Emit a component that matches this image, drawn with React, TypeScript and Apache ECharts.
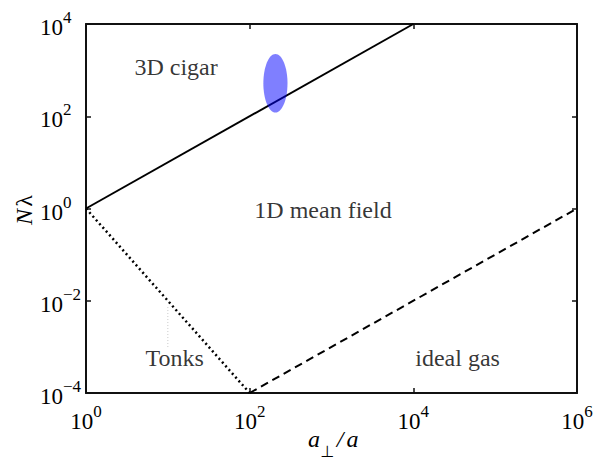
import React, { useEffect, useRef } from "react";
import * as echarts from "echarts";

// Regime boundaries (a_perp/a , N*lambda)
const meanFieldBoundary: [number, number][] = [[1, 1], [1e4, 1e4]];
const tonksBoundary: [number, number][] = [[1, 1], [100, 1e-4]];
const idealGasBoundary: [number, number][] = [[100, 1e-4], [1e6, 1]];
const guideLine: [number, number][] = [[10, 7.3e-3], [10, 9.5e-4]];
// Experiment region: [xMin, xMax, yMin, yMax]
const experimentRegion: number[][] = [[147, 290, 120, 2240]];
// Regime labels: [x, y, text]
const regimeLabels: [number, number, string][] = [
  [12.6, 1170, "3D cigar"],
  [787, 0.93, "1D mean field"],
  [12.1, 5.75e-4, "Tonks"],
  [34700, 5.75e-4, "ideal gas"],
];
const xTicks = [1, 100, 1e4, 1e6];
const yTicks = [1e-4, 1e-2, 1, 1e2, 1e4];

const SERIF = "Liberation Serif";
const INK = "#000";

const fmt = (v: number) => {
  const e = Math.round(Math.log10(v));
  const s = e < 0 ? "\u2212" + Math.abs(e) : String(e);
  return `{b|10}{s|${s}}`;
};
const rich = {
  b: { fontFamily: SERIF, fontSize: 23, lineHeight: 30, verticalAlign: "bottom", color: INK },
  s: { fontFamily: SERIF, fontSize: 17, lineHeight: 17, verticalAlign: "top", color: INK },
};

const axisLine = { show: true, onZero: false, lineStyle: { color: "#111", width: 2 } };

const titleText = (text: string, x: number, y: number, extra: any = {}) => ({
  type: "text",
  x,
  y,
  style: {
    text,
    align: "center",
    verticalAlign: "middle",
    fontFamily: SERIF,
    fontStyle: "italic",
    fontSize: 24,
    fill: INK,
    ...extra,
  },
});

export default function App() {
  const ref = useRef<HTMLDivElement>(null);
  useEffect(() => {
    document.body.style.margin = "0";
    const chart = echarts.init(ref.current!, null, { renderer: "svg" });
    const xAxisBase = {
      type: "log",
      logBase: 10,
      min: 1,
      max: 1e6,
      axisLine,
      splitLine: { show: false },
      minorTick: { show: false },
      axisTick: { show: true, inside: true, length: 5, customValues: xTicks, lineStyle: { color: "#111", width: 1.5 } },
    };
    const yAxisBase = {
      type: "log",
      logBase: 10,
      min: 1e-4,
      max: 1e4,
      axisLine,
      splitLine: { show: false },
      minorTick: { show: false },
      axisTick: { show: true, inside: true, length: 5, customValues: yTicks, lineStyle: { color: "#111", width: 1.5 } },
    };
    chart.setOption({
      animation: false,
      backgroundColor: "#fff",
      grid: { left: 86, right: 16, top: 24, bottom: 68, containLabel: false, outerBoundsMode: "none" },
      xAxis: [
        {
          ...xAxisBase,
          position: "bottom",
          axisLabel: { customValues: xTicks, formatter: fmt, rich, margin: 10 },
        },
        { ...xAxisBase, position: "top", axisLabel: { show: false } },
      ],
      yAxis: [
        {
          ...yAxisBase,
          position: "left",
          axisLabel: { customValues: yTicks, formatter: fmt, rich, margin: 46, align: "left" },
        },
        { ...yAxisBase, position: "right", axisLabel: { show: false } },
      ],
      graphic: [
        {
          type: "text",
          x: 24,
          y: 210,
          rotation: Math.PI / 2,
          style: {
            text: "{i|N}\u2009{l|\u03bb}",
            align: "center",
            verticalAlign: "middle",
            rich: {
              i: { fontFamily: SERIF, fontStyle: "italic", fontSize: 24, fill: INK },
              l: { fontFamily: SERIF, fontSize: 24, fill: INK },
            },
          },
        },
        titleText("a", 314, 439),
        titleText("\u22a5", 327.5, 451, { fontFamily: "DejaVu Sans", fontStyle: "normal", fontSize: 16 }),
        titleText("/", 340, 439),
        titleText("a", 352.5, 439),
      ],
      series: [
        {
          type: "line",
          data: meanFieldBoundary,
          symbol: "none",
          lineStyle: { color: "#000", width: 2, type: "solid" },
          z: 2,
        },
        {
          type: "line",
          data: tonksBoundary,
          symbol: "none",
          lineStyle: { color: "#000", width: 2.5, type: [2, 3] },
          z: 2,
        },
        {
          type: "line",
          data: idealGasBoundary,
          symbol: "none",
          lineStyle: { color: "#000", width: 2, type: [8, 5] },
          z: 2,
        },
        {
          type: "line",
          data: guideLine,
          symbol: "none",
          lineStyle: { color: "#c8c8c8", width: 1, type: [1, 2] },
          z: 1,
        },
        {
          type: "custom",
          data: experimentRegion,
          encode: { x: [0, 1], y: [2, 3] },
          z: 5,
          renderItem: (params: any, api: any) => {
            const p1 = api.coord([api.value(0), api.value(2)]);
            const p2 = api.coord([api.value(1), api.value(3)]);
            return {
              type: "ellipse",
              shape: {
                cx: (p1[0] + p2[0]) / 2,
                cy: (p1[1] + p2[1]) / 2,
                rx: Math.abs(p2[0] - p1[0]) / 2,
                ry: Math.abs(p2[1] - p1[1]) / 2,
              },
              style: { fill: "rgba(0,0,255,0.5)" },
            };
          },
        },
        {
          type: "scatter",
          symbolSize: 0,
          data: regimeLabels.map((d) => ({ value: [d[0], d[1]], name: d[2] })),
          label: {
            show: true,
            position: "inside",
            formatter: (p: any) => p.name,
            fontFamily: SERIF,
            fontSize: 24,
            color: INK,
          },
          z: 6,
        },
      ],
    });
    return () => chart.dispose();
  }, []);
  return <div ref={ref} style={{ width: 593, height: 461, position: "absolute", left: 0, top: 0 }} />;
}
